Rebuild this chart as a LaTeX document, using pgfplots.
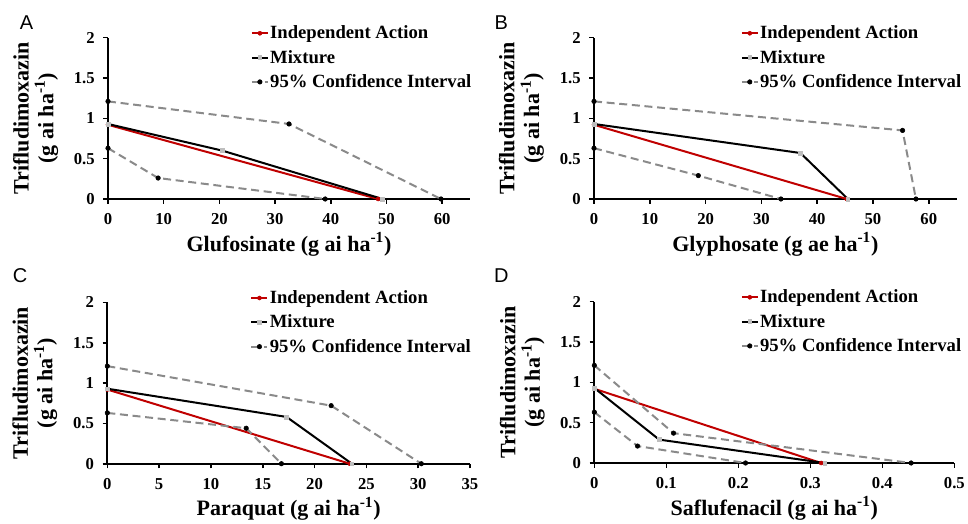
\documentclass[border=0pt]{standalone}
\usepackage{fontspec}
\setmainfont{Liberation Serif}
\newfontfamily\panelfont{Liberation Sans}
\usepackage{pgfplots}
\pgfplotsset{compat=1.18}

\definecolor{iared}{RGB}{192,0,0}
\definecolor{cigray}{RGB}{138,138,138}
\definecolor{mixmark}{RGB}{190,190,190}

\pgfplotsset{
  panel/.style={
    scale only axis, height=121pt,
    axis lines*=left,
    axis line style={line width=1.5pt},
    ymin=0, ymax=2, ytick={0,0.5,1,1.5,2}, xmin=0,
    tick style={black, line width=1.2pt},
    tick align=outside, major tick length=3.5pt,
    /pgf/number format/assume math mode=true,
    xticklabel={\textbf{\pgfmathprintnumber{\tick}}},
    yticklabel={\textbf{\pgfmathprintnumber{\tick}}},
    ticklabel style={font=\fontsize{12.5}{14}\selectfont\bfseries},
    yticklabel style={xshift=-3pt},
    xticklabel style={yshift=-4pt},
    ylabel={Trifludimoxazin\\(g ai ha\textsuperscript{-1})},
    every axis y label/.style={at={(axis description cs:-0.20,0.5)}, rotate=90, anchor=center, align=center,
      font=\fontsize{16.5}{18.5}\selectfont\bfseries},
    every axis x label/.style={at={(axis description cs:0.5,-0.28)}, anchor=center,
      font=\fontsize{16.5}{18}\selectfont\bfseries},
    legend style={draw=none, fill=none, anchor=north west,
      font=\fontsize{14}{15.5}\selectfont\bfseries, row sep=5pt,
      nodes={inner sep=1pt}},
    legend cell align=left,
    legend image code/.code={
      \draw[mark repeat=2,mark phase=2,#1] plot coordinates {(0cm,0cm) (0.21cm,0cm) (0.42cm,0cm)};},
    clip=false,
  },
  ia/.style={iared, line width=1.5pt, mark=*, mark size=1.5pt, mark options={solid, line width=0.4pt, fill=iared}},
  mix/.style={black, line width=1.5pt, mark=square*, mark size=1.4pt, mark options={solid, line width=0.4pt, draw=mixmark, fill=mixmark}},
  ci/.style={cigray, line width=1.5pt, dash pattern=on 6pt off 3.5pt, mark=*, mark size=1.7pt, mark options={solid, line width=0.4pt, draw=black, fill=black}},
}

\begin{document}
\begin{tikzpicture}
\useasboundingbox (0,0) rectangle (726pt,393pt);

% A
\begin{axis}[panel, at={(81pt,243.75pt)}, anchor=south west, width=271.5pt,
  xmax=65, xtick={0,10,...,60},
  xlabel={Glufosinate (g ai ha\textsuperscript{-1})},
  legend style={at={(rel axis cs:0.383,1.10)}}]
\addplot[ia] coordinates {(0,0.92) (48.5,0)};
\addlegendentry{Independent Action}
\addplot[mix] coordinates {(0,0.93) (20.5,0.60) (49.3,0)};
\addlegendentry{Mixture}
\addplot[ci] coordinates {(0,1.21) (32.5,0.93) (59.8,0)};
\addlegendentry{95\% Confidence Interval}
\addplot[ci, forget plot] coordinates {(0,0.63) (9,0.26) (39,0)};
\end{axis}

% B
\begin{axis}[panel, at={(445.5pt,243.75pt)}, anchor=south west, width=272pt,
  xmax=65, xtick={0,10,...,60},
  xlabel={Glyphosate (g ae ha\textsuperscript{-1})},
  legend style={at={(rel axis cs:0.393,1.10)}}]
\addplot[ia] coordinates {(0,0.92) (45.3,0)};
\addlegendentry{Independent Action}
\addplot[mix] coordinates {(0,0.93) (37,0.57) (45.5,0)};
\addlegendentry{Mixture}
\addplot[ci] coordinates {(0,1.21) (55.3,0.85) (57.7,0)};
\addlegendentry{95\% Confidence Interval}
\addplot[ci, forget plot] coordinates {(0,0.63) (18.7,0.29) (33.5,0)};
\end{axis}

% C
\begin{axis}[panel, at={(80.5pt,45.2pt)}, anchor=south west, width=272pt,
  xmax=35, xtick={0,5,...,35},
  xlabel={Paraquat (g ai ha\textsuperscript{-1})},
  legend style={at={(rel axis cs:0.383,1.10)}}]
\addplot[ia] coordinates {(0,0.92) (23.4,0)};
\addlegendentry{Independent Action}
\addplot[mix] coordinates {(0,0.93) (17.3,0.58) (23.6,0)};
\addlegendentry{Mixture}
\addplot[ci] coordinates {(0,1.21) (21.6,0.72) (30.3,0)};
\addlegendentry{95\% Confidence Interval}
\addplot[ci, forget plot] coordinates {(0,0.63) (13.4,0.44) (16.8,0)};
\end{axis}

% D
\begin{axis}[panel, at={(445.75pt,45.75pt)}, anchor=south west, width=270pt,
  xmax=0.5, xtick={0,0.1,0.2,0.3,0.4,0.5},
  xticklabel style={/pgf/number format/fixed},
  xlabel={Saflufenacil (g ai ha\textsuperscript{-1})},
  legend style={at={(rel axis cs:0.395,1.10)}}]
\addplot[ia] coordinates {(0,0.92) (0.315,0)};
\addlegendentry{Independent Action}
\addplot[mix] coordinates {(0,0.93) (0.09,0.29) (0.32,0)};
\addlegendentry{Mixture}
\addplot[ci] coordinates {(0,1.21) (0.11,0.37) (0.44,0)};
\addlegendentry{95\% Confidence Interval}
\addplot[ci, forget plot] coordinates {(0,0.63) (0.06,0.21) (0.21,0)};
\end{axis}

\node[font=\panelfont\fontsize{15}{16}\selectfont] at (20pt,376pt) {A};
\node[font=\panelfont\fontsize{15}{16}\selectfont] at (376pt,376pt) {B};
\node[font=\panelfont\fontsize{15}{16}\selectfont] at (15pt,186pt) {C};
\node[font=\panelfont\fontsize{15}{16}\selectfont] at (376pt,186pt) {D};
\end{tikzpicture}
\end{document}
